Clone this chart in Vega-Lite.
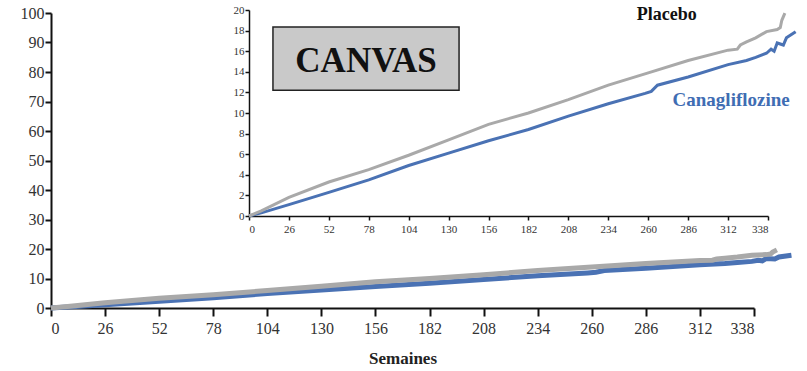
{
  "$schema": "https://vega.github.io/schema/vega-lite/v6.json",
  "width": 703,
  "height": 295,
  "autosize": "none",
  "padding": {"left": 51, "top": 13, "right": 53, "bottom": 63},
  "background": "white",
  "config": {
    "view": {"stroke": null},
    "font": "Liberation Serif",
    "axis": {"grid": false, "labelFont": "Liberation Serif", "titleFont": "Liberation Serif", "labelOverlap": false}
  },
  "datasets": {
    "curves": [
      {"week": 0, "pct": 0, "group": "Canagliflozine"},
      {"week": 8, "pct": 0.3, "group": "Canagliflozine"},
      {"week": 26, "pct": 1.1, "group": "Canagliflozine"},
      {"week": 52, "pct": 2.3, "group": "Canagliflozine"},
      {"week": 78, "pct": 3.5, "group": "Canagliflozine"},
      {"week": 104, "pct": 4.9, "group": "Canagliflozine"},
      {"week": 130, "pct": 6.1, "group": "Canagliflozine"},
      {"week": 156, "pct": 7.3, "group": "Canagliflozine"},
      {"week": 182, "pct": 8.4, "group": "Canagliflozine"},
      {"week": 208, "pct": 9.7, "group": "Canagliflozine"},
      {"week": 234, "pct": 10.9, "group": "Canagliflozine"},
      {"week": 258, "pct": 11.9, "group": "Canagliflozine"},
      {"week": 262, "pct": 12.1, "group": "Canagliflozine"},
      {"week": 266, "pct": 12.7, "group": "Canagliflozine"},
      {"week": 286, "pct": 13.5, "group": "Canagliflozine"},
      {"week": 312, "pct": 14.7, "group": "Canagliflozine"},
      {"week": 324, "pct": 15.1, "group": "Canagliflozine"},
      {"week": 330, "pct": 15.4, "group": "Canagliflozine"},
      {"week": 337, "pct": 15.8, "group": "Canagliflozine"},
      {"week": 340, "pct": 16.2, "group": "Canagliflozine"},
      {"week": 342, "pct": 16.0, "group": "Canagliflozine"},
      {"week": 344, "pct": 16.8, "group": "Canagliflozine"},
      {"week": 348, "pct": 16.6, "group": "Canagliflozine"},
      {"week": 350, "pct": 17.3, "group": "Canagliflozine"},
      {"week": 356, "pct": 17.9, "group": "Canagliflozine"},
      {"week": 0, "pct": 0, "group": "Placebo"},
      {"week": 8, "pct": 0.5, "group": "Placebo"},
      {"week": 26, "pct": 1.8, "group": "Placebo"},
      {"week": 52, "pct": 3.3, "group": "Placebo"},
      {"week": 78, "pct": 4.5, "group": "Placebo"},
      {"week": 104, "pct": 5.9, "group": "Placebo"},
      {"week": 130, "pct": 7.4, "group": "Placebo"},
      {"week": 156, "pct": 8.9, "group": "Placebo"},
      {"week": 182, "pct": 10.0, "group": "Placebo"},
      {"week": 208, "pct": 11.3, "group": "Placebo"},
      {"week": 234, "pct": 12.7, "group": "Placebo"},
      {"week": 260, "pct": 13.9, "group": "Placebo"},
      {"week": 286, "pct": 15.1, "group": "Placebo"},
      {"week": 312, "pct": 16.1, "group": "Placebo"},
      {"week": 318, "pct": 16.2, "group": "Placebo"},
      {"week": 320, "pct": 16.6, "group": "Placebo"},
      {"week": 324, "pct": 16.9, "group": "Placebo"},
      {"week": 330, "pct": 17.3, "group": "Placebo"},
      {"week": 337, "pct": 17.9, "group": "Placebo"},
      {"week": 344, "pct": 18.1, "group": "Placebo"},
      {"week": 346, "pct": 18.3, "group": "Placebo"},
      {"week": 347, "pct": 19.0, "group": "Placebo"},
      {"week": 349, "pct": 19.7, "group": "Placebo"}
    ],
    "single": [{}]
  },
  "resolve": {"scale": {"x": "independent", "y": "independent"}, "axis": {"x": "independent", "y": "independent"}},
  "layer": [
    {
      "data": {"name": "curves"},
      "mark": {"type": "line", "strokeWidth": 5, "clip": false, "strokeCap": "butt"},
      "encoding": {
        "x": {
          "field": "week", "type": "quantitative",
          "scale": {"domain": [0, 338], "nice": false, "zero": false},
          "axis": {
            "title": "Semaines", "values": [0, 26, 52, 78, 104, 130, 156, 182, 208, 234, 260, 286, 312, 338],
            "domainColor": "#111", "domainWidth": 2, "tickColor": "#111", "tickWidth": 2, "tickSize": 8,
            "labelFont": "Liberation Serif", "labelFontSize": 16, "labelColor": "#333", "labelPadding": 4, "labelOverlap": false,
            "titleFont": "Liberation Serif", "titleFontSize": 17, "titleFontWeight": "bold", "titleColor": "#222", "titlePadding": 14
          }
        },
        "y": {
          "field": "pct", "type": "quantitative",
          "scale": {"domain": [0, 100], "nice": false},
          "axis": {
            "title": null, "values": [0, 10, 20, 30, 40, 50, 60, 70, 80, 90, 100],
            "domainColor": "#111", "domainWidth": 2, "tickColor": "#111", "tickWidth": 2, "tickSize": 6,
            "labelFont": "Liberation Serif", "labelFontSize": 16, "labelColor": "#333", "labelPadding": 1, "labelOverlap": false
          }
        },
        "color": {
          "field": "group", "type": "nominal",
          "scale": {"domain": ["Placebo", "Canagliflozine"], "range": ["#a9a9a9", "#4a72b4"]},
          "legend": null
        }
      }
    },
    {
      "data": {"name": "curves"},
      "mark": {"type": "line", "strokeWidth": 3, "clip": false},
      "encoding": {
        "x": {
          "field": "week", "type": "quantitative",
          "scale": {"domain": [0, 338], "range": [198, 717], "nice": false, "zero": false},
          "axis": {
            "title": null, "orient": "bottom", "offset": -92,
            "values": [0, 26, 52, 78, 104, 130, 156, 182, 208, 234, 260, 286, 312, 338],
            "domainColor": "#111", "domainWidth": 1.5, "tickColor": "#111", "tickWidth": 1.5, "tickSize": 4,
            "labelFont": "Liberation Serif", "labelFontSize": 11, "labelColor": "#333", "labelPadding": 3, "labelOverlap": false
          }
        },
        "y": {
          "field": "pct", "type": "quantitative",
          "scale": {"domain": [0, 20], "range": [203, -3], "nice": false, "zero": false},
          "axis": {
            "title": null, "orient": "left", "offset": -198,
            "values": [0, 2, 4, 6, 8, 10, 12, 14, 16, 18, 20],
            "domainColor": "#111", "domainWidth": 1.5, "tickColor": "#111", "tickWidth": 1.5, "tickSize": 4,
            "labelFont": "Liberation Serif", "labelFontSize": 11, "labelColor": "#333", "labelPadding": 1,
            "labelOverlap": false, "labelBound": false
          }
        },
        "color": {
          "field": "group", "type": "nominal",
          "scale": {"domain": ["Placebo", "Canagliflozine"], "range": ["#a9a9a9", "#4a72b4"]},
          "legend": null
        }
      }
    },
    {
      "data": {"name": "single"},
      "layer": [
        {
          "mark": {"type": "rect", "fill": "#c9c9c9", "stroke": "#222", "strokeWidth": 1.5},
          "encoding": {
            "x": {"datum": 15.6, "type": "quantitative"},
            "x2": {"datum": 136.8},
            "y": {"datum": 18.35, "type": "quantitative"},
            "y2": {"datum": 12.2}
          }
        },
        {
          "mark": {"type": "text", "text": "CANVAS", "font": "Liberation Serif", "fontSize": 35, "fontWeight": "bold", "color": "#111", "align": "center", "baseline": "alphabetic"},
          "encoding": {
            "x": {"datum": 76.2, "type": "quantitative"},
            "y": {"datum": 14.0, "type": "quantitative"}
          }
        },
        {
          "mark": {"type": "text", "text": "Placebo", "font": "Liberation Serif", "fontSize": 18, "fontWeight": "bold", "color": "#111", "align": "center", "baseline": "alphabetic"},
          "encoding": {
            "x": {"datum": 272, "type": "quantitative"},
            "y": {"datum": 19.0, "type": "quantitative"}
          }
        },
        {
          "mark": {"type": "text", "text": "Canagliflozine", "font": "Liberation Serif", "fontSize": 19, "fontWeight": "bold", "color": "#3f6db3", "align": "center", "baseline": "alphabetic"},
          "encoding": {
            "x": {"datum": 314, "type": "quantitative"},
            "y": {"datum": 10.7, "type": "quantitative"}
          }
        }
      ],
      "encoding": {
        "x": {"type": "quantitative", "scale": {"domain": [0, 338], "range": [198, 717], "nice": false, "zero": false}, "axis": null},
        "y": {"type": "quantitative", "scale": {"domain": [0, 20], "range": [203, -3], "nice": false, "zero": false}, "axis": null}
      }
    }
  ]
}
